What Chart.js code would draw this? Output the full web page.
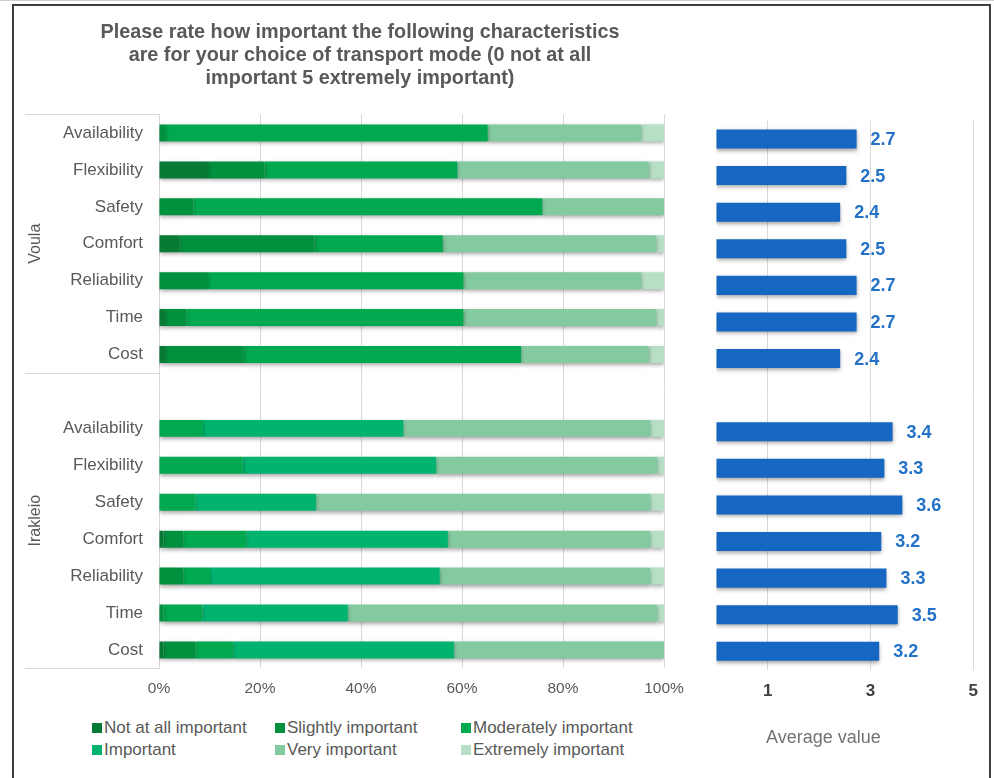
<!DOCTYPE html>
<html>
<head>
<meta charset="utf-8">
<script src="https://cdn.jsdelivr.net/npm/chart.js@4.4.1/dist/chart.umd.min.js"></script>
<style>
  body { margin: 0; background: #fff; font-family: "Liberation Sans", Arial, sans-serif; }
  #page { position: relative; width: 994px; height: 778px; overflow: hidden; background: #fff; }
  #topline { position: absolute; left: 0; top: 0; width: 994px; height: 1px; background: #cfcfcf; }
  #frame { position: absolute; left: 12px; top: 4px; width: 975px; height: 800px; border: 2px solid #3f3f3f; border-bottom: none; }
  #share-chart { position: absolute; left: 10px; top: 0; }
  #avg-chart { position: absolute; left: 700px; top: 0; }
  #avg-title { position: absolute; left: 766px; top: 727px; font-size: 18px; line-height: 20px; color: #737373; }
  #legend { position: absolute; left: 92px; top: 717px; display: grid; grid-template-columns: 183px 186px auto; grid-auto-rows: 22px; font-size: 17px; color: #595959; }
  #legend div { display: flex; align-items: center; white-space: nowrap; }
  #legend span { display: inline-block; width: 10px; height: 10px; margin-right: 2px; }
</style>
</head>
<body>
<div id="page">
  <div id="topline"></div>
  <div id="frame"></div>
  <canvas id="share-chart" width="700" height="710"></canvas>
  <canvas id="avg-chart" width="290" height="714"></canvas>
  <div id="legend"></div>
  <div id="avg-title">Average value</div>
</div>
<script>
var titleLines = ['Please rate how important the following characteristics', 'are for your choice of transport mode (0 not at all', 'important 5 extremely important)'];
var groups = ['Voula', 'Irakleio'];
var groupStarts = [0, 7];
var categories = ['Availability', 'Flexibility', 'Safety', 'Comfort', 'Reliability', 'Time', 'Cost', '',
                  'Availability', 'Flexibility', 'Safety', 'Comfort', 'Reliability', 'Time', 'Cost'];
var levels = ['Not at all important', 'Slightly important', 'Moderately important', 'Important', 'Very important', 'Extremely important'];
var levelColors = ['#077a36', '#00913f', '#00a84f', '#00b36f', '#84caa1', '#b6dfc6'];

// shares in %, Voula rows then gap then Irakleio rows
var notAtAll      = [0, 9.7, 0, 4.0, 0, 1.2, 1.2, null, 0, 0, 0, 0.9, 0, 0, 0.9];
var slightly      = [1.2, 11.2, 6.8, 26.8, 9.7, 4.2, 15.6, null, 0, 0, 0, 3.9, 4.8, 0.9, 6.3];
var moderately    = [63.9, 38.2, 69.1, 25.4, 50.6, 54.9, 54.9, null, 8.7, 16.6, 7.2, 12.5, 5.3, 7.7, 7.5];
var important     = [0, 0, 0, 0, 0, 0, 0, null, 39.7, 38.3, 23.9, 39.9, 45.5, 28.8, 43.7];
var veryImportant = [30.4, 37.9, 24.1, 42.3, 35.2, 38.2, 25.3, null, 48.9, 43.8, 66.2, 40.1, 41.7, 61.3, 41.6];
var extremely     = [4.5, 3.0, 0, 1.5, 4.5, 1.5, 3.0, null, 2.7, 1.3, 2.7, 2.7, 2.7, 1.3, 0];

var averages = [2.73, 2.53, 2.41, 2.53, 2.73, 2.73, 2.41, null, 3.43, 3.27, 3.62, 3.21, 3.31, 3.53, 3.17];
var avgTicks = [1, 3, 5];
var shareTicks = [0, 20, 40, 60, 80, 100];

var FONT = '"Liberation Sans", Arial, sans-serif';
var shares = [notAtAll, slightly, moderately, important, veryImportant, extremely];

// Excel-like drop shadow under bars
var shadowPlugin = {
  id: 'barShadow',
  beforeDatasetsDraw: function(chart) {
    var c = chart.ctx;
    c.save();
    c.shadowColor = 'rgba(0,0,0,0.35)'; c.shadowBlur = 4; c.shadowOffsetY = 2;
  },
  afterDatasetsDraw: function(chart) { chart.ctx.restore(); }
};

// group box + rotated group names on the category axis
var groupPlugin = {
  id: 'groups',
  afterDraw: function(chart) {
    var y = chart.scales.y, c = chart.ctx;
    var half = (y.getPixelForValue(1) - y.getPixelForValue(0)) / 2;
    var edges = groupStarts.map(function(i) { return y.getPixelForValue(i) - half; });
    edges.push(y.getPixelForValue(categories.length - 1) + half);
    c.save();
    c.strokeStyle = '#d9d9d9'; c.lineWidth = 1;
    edges.forEach(function(e) {
      c.beginPath(); c.moveTo(15, Math.round(e) + 0.5); c.lineTo(chart.chartArea.left, Math.round(e) + 0.5); c.stroke();
    });
    c.fillStyle = '#595959'; c.font = '16px ' + FONT; c.textAlign = 'center'; c.textBaseline = 'middle';
    groups.forEach(function(g, i) {
      c.save();
      c.translate(26, (edges[i] + edges[i + 1]) / 2);
      c.rotate(-Math.PI / 2);
      c.fillText(g, 0, 0);
      c.restore();
    });
    c.restore();
  }
};

var valueLabels = {
  id: 'valueLabels',
  afterDatasetsDraw: function(chart) {
    var c = chart.ctx, ds = chart.data.datasets[0];
    c.save();
    c.font = 'bold 18px ' + FONT; c.fillStyle = '#2372c8'; c.textBaseline = 'middle';
    chart.getDatasetMeta(0).data.forEach(function(bar, i) {
      if (ds.data[i] == null) return;
      c.fillText(ds.data[i].toFixed(1), bar.x + 14, bar.y + 1);
    });
    c.restore();
  }
};

// Stacked 100% bar
new Chart(document.getElementById('share-chart'), {
  type: 'bar',
  data: {
    labels: categories,
    datasets: levels.map(function(name, i) {
      return { label: name, data: shares[i], backgroundColor: levelColors[i], borderWidth: 0, barPercentage: 0.46, categoryPercentage: 1 };
    })
  },
  options: {
    indexAxis: 'y', responsive: false, animation: false,
    layout: { padding: { left: 46, right: 46, top: 0, bottom: 0 } },
    plugins: {
      legend: { display: false }, tooltip: { enabled: false },
      title: { display: true, text: titleLines, color: '#595959', font: { family: FONT, size: 19.8, weight: 'bold', lineHeight: 1.1616 }, padding: { top: 21.5, bottom: 24 } }
    },
    scales: {
      x: {
        stacked: true, min: 0, max: 100,
        afterBuildTicks: function(s) { s.ticks = shareTicks.map(function(v) { return { value: v }; }); },
        ticks: { color: '#595959', font: { family: FONT, size: 15.5 }, padding: 11.5, callback: function(v) { return v + '%'; } },
        grid: { color: '#d9d9d9', drawTicks: false }, border: { display: false }
      },
      y: {
        stacked: true,
        ticks: { color: '#595959', font: { family: FONT, size: 17 }, padding: 16 },
        grid: { display: false, drawTicks: false }, border: { color: '#d9d9d9' },
        afterFit: function(s) { s.width = 103; }
      }
    }
  },
  plugins: [shadowPlugin, groupPlugin]
});

// Average value bar
new Chart(document.getElementById('avg-chart'), {
  type: 'bar',
  data: {
    labels: categories,
    datasets: [{ label: 'Average value', data: averages, backgroundColor: '#1667c2', borderWidth: 0, barPercentage: 0.52, categoryPercentage: 1 }]
  },
  options: {
    indexAxis: 'y', responsive: false, animation: false,
    layout: { padding: { left: 16.3, right: 13.3, top: 120.7, bottom: 0 } },
    plugins: { legend: { display: false }, tooltip: { enabled: false } },
    scales: {
      x: {
        min: 0, max: 5,
        afterBuildTicks: function(s) { s.ticks = avgTicks.map(function(v) { return { value: v }; }); },
        ticks: { color: '#404040', font: { family: FONT, size: 17, weight: 'bold' }, padding: 12 },
        grid: { color: '#d9d9d9', drawTicks: false }, border: { display: false }
      },
      y: { display: false }
    }
  },
  plugins: [shadowPlugin, valueLabels]
});

// Legend laid out in three columns like the original
var legend = document.getElementById('legend');
levels.forEach(function(name, i) {
  var item = document.createElement('div');
  var box = document.createElement('span');
  box.style.background = levelColors[i];
  item.appendChild(box);
  item.appendChild(document.createTextNode(name));
  legend.appendChild(item);
});
</script>
</body>
</html>
